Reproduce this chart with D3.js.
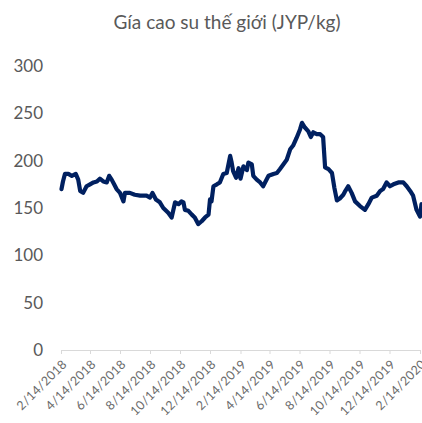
<!DOCTYPE html>
<html>
<head>
<meta charset="utf-8">
<script src="https://cdn.jsdelivr.net/npm/d3@7"></script>
<style>
  body { margin: 0; background: #fff; }
  svg { display: block; font-family: Lato, "Open Sans", sans-serif; }
</style>
</head>
<body>
<svg width="422" height="423"></svg>
<script>
var title = "Gía cao su thế giới (JYP/kg)";

// dates and prices
var dates = [
  "2018-02-15","2018-02-18","2018-02-22","2018-03-01","2018-03-08","2018-03-16","2018-03-21","2018-03-25",
  "2018-03-31","2018-04-07","2018-04-14","2018-04-21","2018-04-28","2018-05-04","2018-05-11","2018-05-18",
  "2018-05-23","2018-05-28","2018-06-02","2018-06-07","2018-06-14","2018-06-21","2018-06-24","2018-07-04",
  "2018-07-14","2018-07-25","2018-07-31","2018-08-07","2018-08-14","2018-08-19","2018-08-26","2018-09-03",
  "2018-09-10","2018-09-20","2018-09-27","2018-10-04","2018-10-11","2018-10-17","2018-10-21","2018-10-24",
  "2018-10-31","2018-11-07","2018-11-13","2018-11-20","2018-11-27","2018-12-04","2018-12-11","2018-12-14",
  "2018-12-17","2018-12-21","2018-12-28","2019-01-03","2019-01-10","2019-01-17","2019-01-24","2019-01-27",
  "2019-01-30","2019-02-05","2019-02-10","2019-02-14","2019-02-20","2019-02-27","2019-03-02","2019-03-09",
  "2019-03-12","2019-03-19","2019-03-26","2019-04-01","2019-04-12","2019-04-22","2019-04-29","2019-05-05",
  "2019-05-12","2019-05-19","2019-05-26","2019-06-01","2019-06-08","2019-06-15","2019-06-19","2019-06-25",
  "2019-07-02","2019-07-07","2019-07-12","2019-07-19","2019-07-26","2019-08-01","2019-08-05","2019-08-12",
  "2019-08-19","2019-08-24","2019-08-29","2019-09-04","2019-09-11","2019-09-14","2019-09-21","2019-09-28",
  "2019-10-05","2019-10-15","2019-10-25","2019-11-01","2019-11-08","2019-11-18","2019-11-25","2019-12-01",
  "2019-12-08","2019-12-15","2019-12-22","2020-01-01","2020-01-11","2020-01-18","2020-01-25","2020-01-31",
  "2020-02-07","2020-02-14","2020-02-17"
];
var prices = [
  170,178,186,186,184,186,180,168,
  166,173,175,177,178,181,178,177,
  184,180,175,170,166,157,166,166,
  164,163,163,163,161,166,159,156,
  150,145,140,156,154,157,156,148,
  147,143,140,133,136,140,143,159,
  157,173,175,177,186,187,205,198,
  189,182,192,181,194,190,198,196,
  184,180,177,173,184,186,187,191,
  196,201,212,216,224,233,240,235,
  231,225,230,228,228,225,193,191,
  187,171,158,160,164,167,173,166,
  157,152,148,154,161,163,168,170,
  177,173,175,177,177,173,168,163,
  148,141,154
];

var yTicks = [0, 50, 100, 150, 200, 250, 300];
var xTickLabels = ["2/14/2018","4/14/2018","6/14/2018","8/14/2018","10/14/2018","12/14/2018",
  "2/14/2019","4/14/2019","6/14/2019","8/14/2019","10/14/2019","12/14/2019","2/14/2020"];

var svg = d3.select("svg");
var parseIso = d3.timeParse("%Y-%m-%d");
var parseUs = d3.timeParse("%m/%d/%Y");

var data = dates.map(function(d, i) {
  return { date: parseIso(d), value: prices[i] };
});
var tickDates = xTickLabels.map(function(d) { return parseUs(d); });

var plotLeft = 61, plotRight = 420, plotTop = 66, plotBottom = 350;

var x = d3.scaleTime()
  .domain([tickDates[0], tickDates[tickDates.length - 1]])
  .range([plotLeft, plotRight]);

var y = d3.scaleLinear()
  .domain([0, 300])
  .range([plotBottom, plotTop]);

// title
svg.append("text")
  .attr("x", 227)
  .attr("y", 29)
  .attr("text-anchor", "middle")
  .attr("font-size", 19)
  .attr("fill", "#595959")
  .text(title);

// y axis labels only, no line
var yAxis = svg.append("g")
  .attr("transform", "translate(" + (plotLeft - 18) + ",0)")
  .call(d3.axisLeft(y).tickValues(yTicks).tickSize(0).tickPadding(0));
yAxis.select(".domain").remove();
yAxis.selectAll("text")
  .attr("font-size", 17)
  .attr("font-family", "Lato, sans-serif")
  .attr("fill", "#595959");

// x axis
var xAxis = svg.append("g")
  .attr("transform", "translate(0," + plotBottom + ")")
  .call(d3.axisBottom(x)
    .tickValues(tickDates)
    .tickSize(4)
    .tickSizeOuter(0)
    .tickFormat(function(d, i) { return xTickLabels[i]; }));
xAxis.select(".domain").attr("stroke", "#d9d9d9").attr("stroke-width", 1.2);
xAxis.selectAll(".tick line").attr("stroke", "#d9d9d9");
xAxis.selectAll("text")
  .attr("font-size", 12.5)
  .attr("font-family", "Lato, sans-serif")
  .attr("letter-spacing", "0.3px")
  .attr("fill", "#6a6a6a")
  .attr("text-anchor", "end")
  .attr("x", 0)
  .attr("y", 0)
  .attr("dy", "0.35em")
  .attr("transform", "translate(3,12) rotate(-45)");

// price line
var line = d3.line()
  .x(function(d) { return x(d.date); })
  .y(function(d) { return y(d.value); });

svg.append("path")
  .datum(data)
  .attr("fill", "none")
  .attr("stroke", "#002060")
  .attr("stroke-width", 4.2)
  .attr("stroke-linejoin", "round")
  .attr("stroke-linecap", "round")
  .attr("d", line);
</script>
</body>
</html>
